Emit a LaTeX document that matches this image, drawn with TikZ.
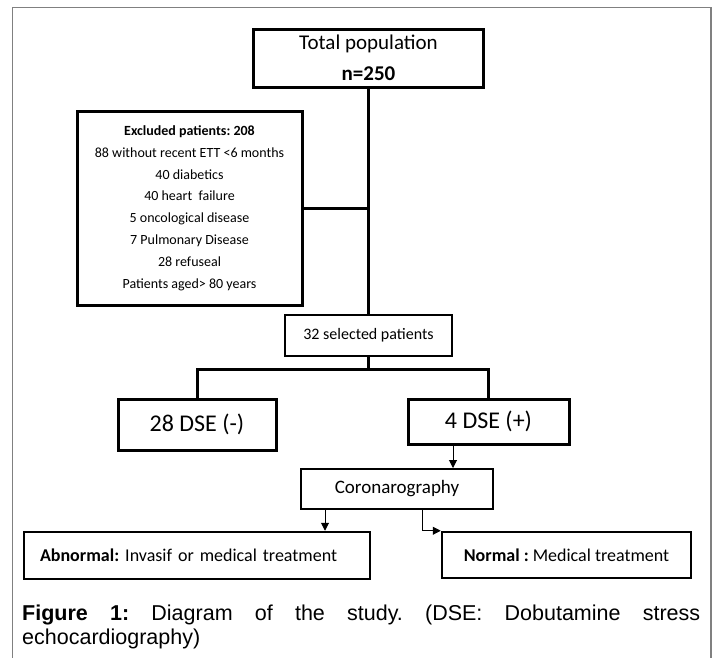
\documentclass[tikz,border=0pt]{standalone}
\usepackage{fontspec}
\setmainfont{Carlito}
\newfontfamily\capfont{Liberation Sans}
\usepackage{xcolor}
\usepackage{tikz}
\usetikzlibrary{arrows.meta}

\begin{document}
\frenchspacing
\begin{tikzpicture}[x=1pt,y=1pt]
\tikzstyle{every node}+=[inner sep=0pt]
\tikzstyle{heavybox}=[draw=black,line width=3pt]
\tikzstyle{midbox}=[draw=black,line width=2.5pt]
\tikzstyle{lightbox}=[draw=black,line width=2pt]
\tikzstyle{link}=[black,line width=3pt]
\tikzstyle{arrow}=[black,line width=1pt,-{Triangle[length=8pt,width=8pt]}]
\useasboundingbox (0,0) rectangle (717,-657);
\draw [gray, line width=1.5pt] (12.5,-665) -- (12.5,-7.5) -- (711,-7.5) -- (711,-665);
\node [heavybox, minimum width=230pt, minimum height=58pt, align=center, font=\fontsize{21}{31}\selectfont] (total) at (368.5,-58) {Total population\\\textbf{n=250}};
\node [heavybox, minimum width=225pt, minimum height=194pt, align=center, font=\fontsize{14}{21.8}\selectfont] (excl) at (189.5,-208) {\textbf{Excluded patients: 208}\\88 without recent ETT <6 months\\40 diabetics\\40 heart\ \ failure\\5 oncological disease\\7 Pulmonary Disease\\28 refuseal\\Patients aged> 80 years};
\node [midbox, minimum width=167pt, minimum height=41pt, font=\fontsize{16}{19}\selectfont] (sel) at (368.5,-335.5) {32 selected patients};
\node [heavybox, minimum width=158pt, minimum height=51pt, font=\fontsize{24}{28}\selectfont] (dneg) at (197,-424.5) {28 DSE (-)};
\node [heavybox, minimum width=161pt, minimum height=45pt, font=\fontsize{24}{28}\selectfont] (dpos) at (488.5,-421.5) {4 DSE (+)};
\node [lightbox, minimum width=192pt, minimum height=40pt, font=\fontsize{19}{22}\selectfont] (coro) at (397,-489) {Coronarography};
\node [midbox, text width=314pt, inner xsep=16pt, minimum height=47pt, align=left, font=\fontsize{18}{21}\selectfont] (abn) at (197,-555.5) {\textbf{Abnormal:} Invasif or medical treatment};
\node [midbox, minimum width=249pt, minimum height=46pt, font=\fontsize{18}{21}\selectfont] (norm) at (566.5,-555) {\textbf{Normal :} Medical treatment};
\node [anchor=base west, text width=678pt, align=justify, font=\capfont\fontsize{21.5}{24}\selectfont] (caption) at (22,-620) {\textbf{Figure 1:} Diagram of the study. (DSE: Dobutamine stress\linebreak echocardiography)};
\coordinate (split) at (368.5,-369);
\draw [link] (total.south) -- (sel.north);
\draw [link] (excl.east) -- (excl.east -| total.south);
\draw [link] (sel.south) -- (split);
\draw [link] (dneg.north) |- (split) -| (dpos.north);
\draw [arrow] ([xshift=-35.5pt]dpos.south) -- ([xshift=-35.5pt]dpos.south |- coro.north);
\draw [arrow] ([xshift=-72pt]coro.south) -- ([xshift=-72pt]coro.south |- abn.north);
\draw [arrow] ([xshift=25pt]coro.south) |- (norm.north west);
\end{tikzpicture}
\end{document}
